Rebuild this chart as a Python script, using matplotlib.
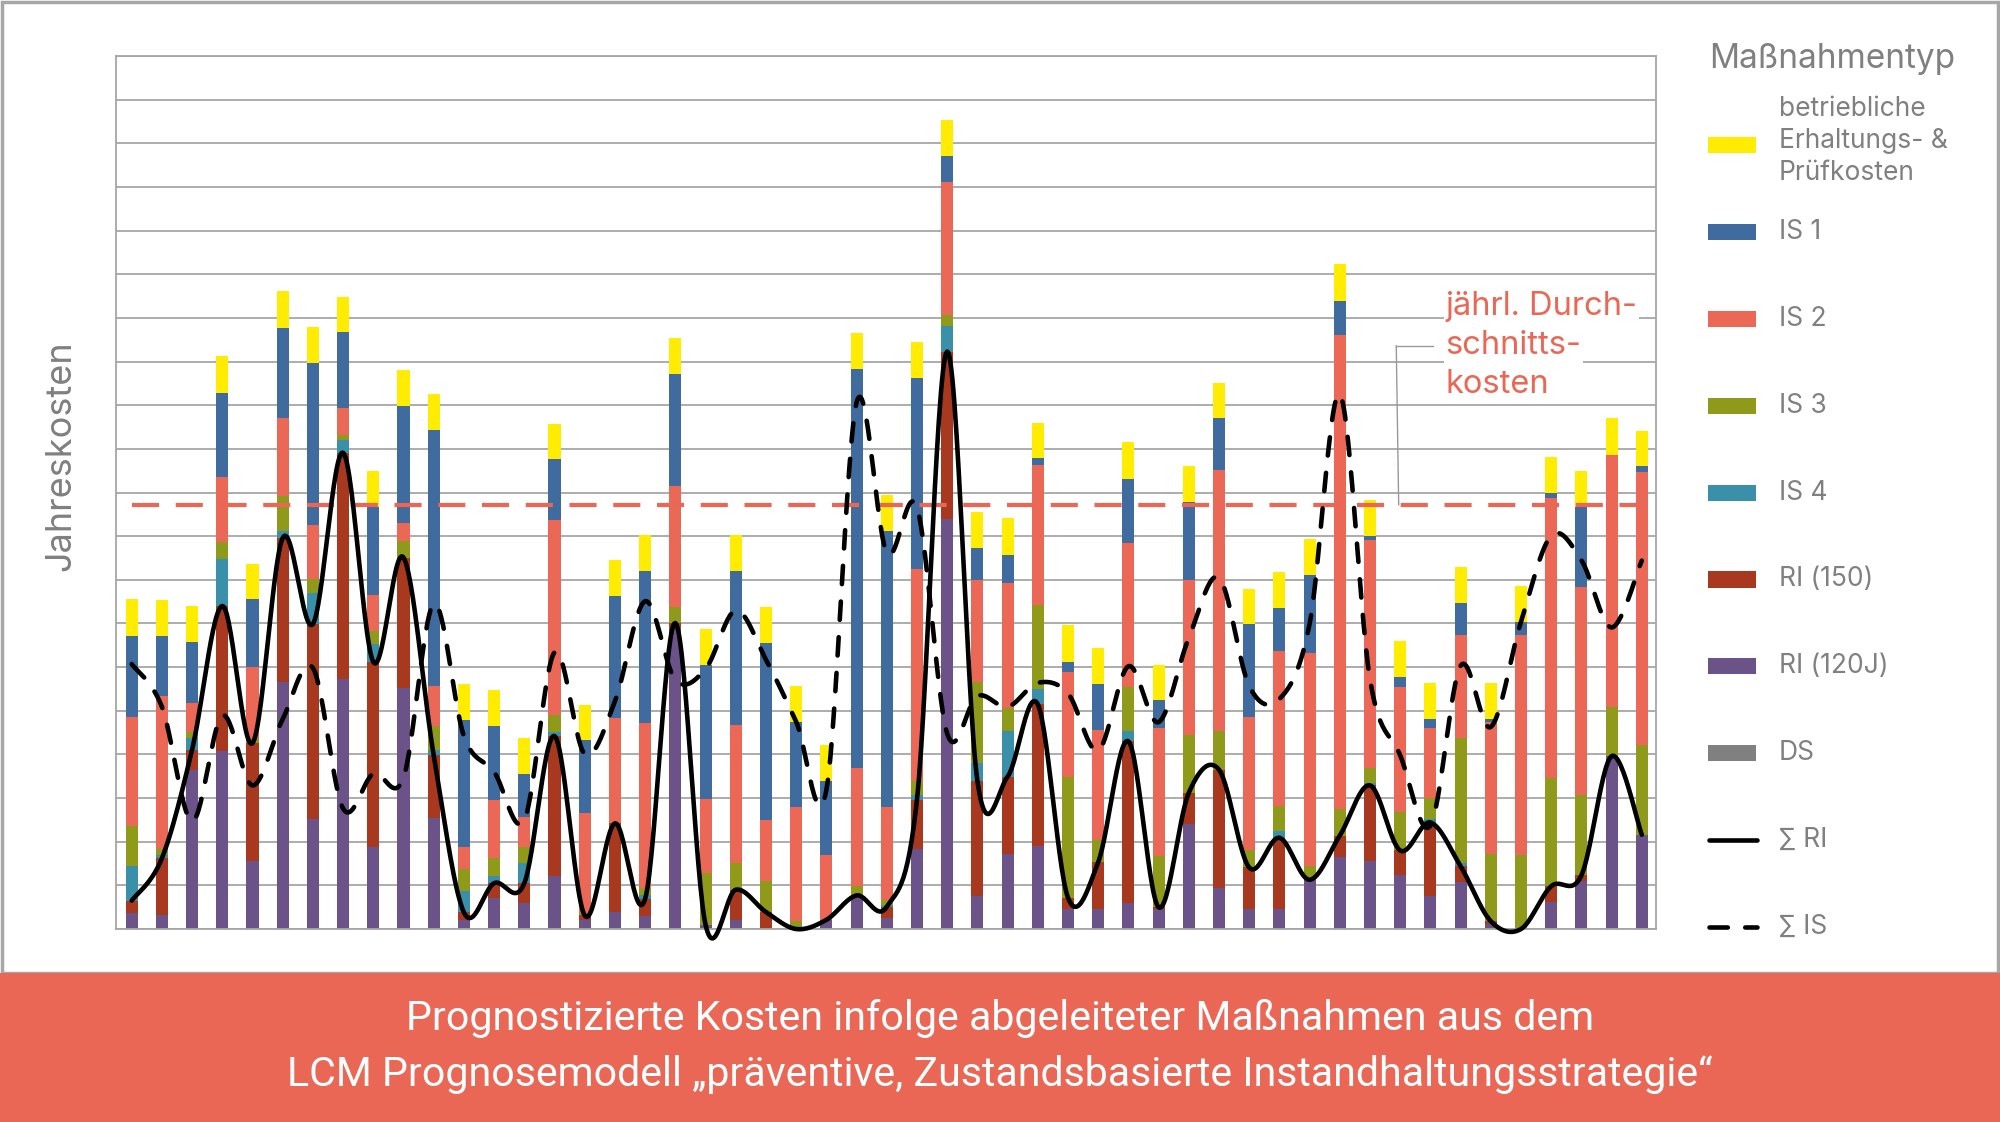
import numpy as np
import matplotlib
matplotlib.use("Agg")
import matplotlib.pyplot as plt
from matplotlib.patches import Rectangle
from matplotlib.lines import Line2D

# --- Werte je Jahr, Stapel von unten nach oben ---
ds = [0.0] * 51
ri_120 = [0.36, 0.33, 3.65, 4.09, 1.56, 5.65, 2.52, 5.73, 1.87, 5.52,
          2.55, 0.21, 0.70, 0.60, 1.21, 0.21, 0.39, 0.29, 6.91, 0.10,
          0.21, 0.00, 0.00, 0.21, 0.77, 0.26, 1.83, 9.39, 0.75, 1.72,
          1.90, 0.47, 0.45, 0.60, 0.45, 2.41, 0.95, 0.45, 0.45, 1.13,
          1.66, 1.56, 1.23, 0.75, 1.08, 0.12, 0.00, 0.62, 1.11, 3.96, 2.16]
ri_150 = [0.29, 1.29, 0.46, 3.31, 2.70, 3.31, 4.47, 5.18, 4.25, 2.99,
          1.43, 0.17, 0.35, 0.45, 3.21, 0.10, 2.03, 0.40, 0.10, 0.00,
          0.69, 0.39, 0.00, 0.00, 0.00, 0.25, 1.13, 3.84, 2.65, 1.77,
          3.25, 0.25, 1.08, 3.70, 0.05, 0.71, 2.70, 0.96, 1.64, 0.00,
          0.48, 1.73, 0.57, 1.69, 0.36, 0.06, 0.00, 0.36, 0.12, 0.00, 0.00]
is_4 = [0.79, 0.07, 0.27, 1.08, 0.00, 0.16, 0.70, 0.29, 0.41, 0.00,
        0.13, 0.48, 0.16, 0.46, 0.10, 0.00, 0.00, 0.08, 0.00, 0.00,
        0.00, 0.00, 0.00, 0.00, 0.00, 0.05, 0.10, 0.59, 0.40, 1.04,
        0.34, 0.00, 0.00, 0.23, 0.00, 0.00, 0.00, 0.00, 0.15, 0.00,
        0.00, 0.05, 0.00, 0.08, 0.08, 0.00, 0.00, 0.00, 0.00, 0.00, 0.00]
is_3 = [0.92, 0.15, 0.14, 0.39, 0.11, 0.79, 0.33, 0.13, 0.30, 0.38,
        0.54, 0.52, 0.41, 0.36, 0.39, 0.05, 0.00, 0.18, 0.36, 1.18,
        0.62, 0.72, 0.18, 0.00, 0.21, 0.11, 0.33, 0.24, 1.87, 0.53,
        1.94, 2.77, 0.50, 1.02, 1.18, 1.32, 0.88, 0.40, 0.57, 0.31,
        0.61, 0.36, 0.87, 0.48, 2.85, 1.55, 1.70, 2.49, 1.83, 1.13, 2.05]
is_2 = [2.49, 3.49, 0.66, 1.49, 1.64, 1.80, 1.23, 0.61, 0.83, 0.41,
        0.92, 0.51, 1.34, 0.70, 4.47, 2.29, 2.41, 3.76, 2.78, 1.70,
        3.16, 1.38, 2.62, 1.49, 2.70, 2.13, 4.85, 3.06, 2.32, 2.86,
        3.21, 2.41, 2.53, 3.30, 2.93, 3.55, 5.98, 3.05, 3.55, 4.88,
        10.85, 5.22, 2.88, 1.60, 2.36, 3.02, 5.03, 6.40, 4.78, 5.76, 6.27]
is_1 = [1.87, 1.38, 1.40, 1.93, 1.54, 2.06, 3.72, 1.73, 2.02, 2.68,
        5.86, 2.91, 1.69, 0.98, 1.38, 1.67, 2.81, 3.49, 2.57, 3.08,
        3.52, 4.07, 1.95, 1.69, 9.15, 6.33, 4.38, 0.59, 0.75, 0.66,
        0.15, 0.22, 1.06, 1.47, 0.63, 1.80, 1.19, 2.12, 1.00, 1.80,
        0.79, 0.09, 0.23, 0.21, 0.74, 0.06, 0.31, 0.12, 1.84, 0.02, 0.12]
betrieb = [0.83, 0.83, 0.82, 0.83, 0.82, 0.84, 0.82, 0.82, 0.82, 0.83,
           0.83, 0.82, 0.82, 0.82, 0.82, 0.82, 0.82, 0.82, 0.83, 0.82,
           0.82, 0.82, 0.82, 0.82, 0.82, 0.82, 0.82, 0.82, 0.81, 0.83,
           0.81, 0.84, 0.81, 0.84, 0.82, 0.81, 0.81, 0.81, 0.82, 0.82,
           0.84, 0.83, 0.82, 0.82, 0.83, 0.82, 0.82, 0.82, 0.82, 0.84, 0.82]
durchschnitt = 9.72

serien = [ds, ri_120, ri_150, is_4, is_3, is_2, is_1, betrieb]
farben = ["#808080", "#6B538A", "#A9391E", "#3B90A9", "#8F9A1A",
          "#EB6856", "#3F6B9F", "#FFEC00"]

legende = [("betriebliche\nErhaltungs- &\nPrüfkosten", "#FFEC00"),
           ("IS 1", "#3F6B9F"), ("IS 2", "#EB6856"), ("IS 3", "#8F9A1A"),
           ("IS 4", "#3B90A9"), ("RI (150)", "#A9391E"),
           ("RI (120J)", "#6B538A"), ("DS", "#808080")]

rot = "#EA6756"
grau = "#A6A6A6"
textgrau = "#808080"


# --- geglättete Linie wie in Excel (Bezier mit Tangenten) ---
def glatt(x, y, n=30):
    x = np.asarray(x, float)
    y = np.asarray(y, float)
    px = np.concatenate([[x[0]], x, [x[-1]]])
    py = np.concatenate([[y[0]], y, [y[-1]]])
    t = np.linspace(0, 1, n)
    xs, ys = [], []
    for i in range(len(x) - 1):
        x0, x1, x2, x3 = px[i:i + 4]
        y0, y1, y2, y3 = py[i:i + 4]
        cx1, cy1 = x1 + (x2 - x0) / 6, y1 + (y2 - y0) / 6
        cx2, cy2 = x2 - (x3 - x1) / 6, y2 - (y3 - y1) / 6
        b0, b1, b2, b3 = (1 - t) ** 3, 3 * (1 - t) ** 2 * t, 3 * (1 - t) * t ** 2, t ** 3
        xs.append(b0 * x1 + b1 * cx1 + b2 * cx2 + b3 * x2)
        ys.append(b0 * y1 + b1 * cy1 + b2 * cy2 + b3 * y2)
    return np.concatenate(xs), np.concatenate(ys)


fig = plt.figure(figsize=(20, 11.22), dpi=100)
ax = fig.add_axes([0.058, 0.172, 0.770, 0.778])

x = np.arange(len(ri_120))
unten = np.zeros(len(x))
for werte, farbe in zip(serien, farben):
    ax.bar(x, werte, 0.4, bottom=unten, color=farbe, linewidth=0, zorder=2)
    unten = unten + np.asarray(werte)

summe_ri = np.asarray(ri_120) + np.asarray(ri_150)
summe_is = np.asarray(is_1) + np.asarray(is_2) + np.asarray(is_3) + np.asarray(is_4)

gx, gy = glatt(x, summe_ri)
ax.plot(gx, gy, color="black", lw=3.3, zorder=4, clip_on=False,
        solid_capstyle="round")
gx, gy = glatt(x, summe_is)
ax.plot(gx, gy, color="black", lw=3.3, zorder=4, clip_on=False,
        linestyle=(0, (4.0, 3.8)), dash_capstyle="round")

ax.hlines(durchschnitt, x[0], x[-1], color=rot, lw=3.0,
          linestyles=[(0, (6.5, 4.0))], zorder=3)

# --- Achsen ---
ax.set_xlim(-0.52, 50.47)
ax.set_ylim(0, 20)
ax.set_yticks(np.arange(0, 21))
ax.set_xticks([])
ax.tick_params(axis="y", length=0, labelleft=False)
ax.grid(axis="y", color=grau, lw=1.3, zorder=0)
ax.set_axisbelow(True)
for s in ax.spines.values():
    s.set_color(grau)
    s.set_linewidth(1.3)

# --- Beschriftung Durchschnitt ---
ax.plot([41.87, 43.1], [13.36, 13.36], color="#999999", lw=1.0, zorder=3)
ax.plot([41.87, 41.95], [13.36, durchschnitt], color="#999999", lw=1.0, zorder=3)
for zeile, yy in zip(["jährl. Durch-", "schnitts-", "kosten"], [14.27, 13.36, 12.48]):
    ax.text(43.5, yy, zeile, color=rot, fontsize=23.5, family="Inter",
            ha="left", va="center", zorder=5,
            bbox=dict(fc="white", ec="none", pad=1.5))

fig.text(0.0306, 0.594, "Jahreskosten", rotation=90, ha="center", va="center",
         color=textgrau, fontsize=26, family="Inter")

# --- Legende ---
fig.text(0.8545, 1 - 68 / 1122, "Maßnahmentyp", ha="left", va="baseline",
         color=textgrau, fontsize=24, family="Inter")
zeilen = [145 + 86.9 * i for i in range(10)]
for (name, farbe), yp in zip(legende, zeilen):
    yf = 1 - yp / 1122
    fig.add_artist(Rectangle((0.854, yf - 0.0072), 0.024, 0.0144,
                             transform=fig.transFigure, color=farbe, lw=0))
    ty = yf + (0.0035 if "\n" in name else 0)
    fig.text(0.8895, ty, name, ha="left", va="center", color=textgrau,
             fontsize=19, family="Inter", linespacing=1.32)
for (name, stil), yp in zip([("∑ RI", "-"), ("∑ IS", (0, (4.0, 3.8)))], zeilen[8:]):
    yf = 1 - yp / 1122
    fig.add_artist(Line2D([0.8545, 0.8785], [yf, yf], transform=fig.transFigure,
                          color="black", lw=3.3, linestyle=stil,
                          dash_capstyle="round", solid_capstyle="round"))
    fig.text(0.8895, yf, name, ha="left", va="center", color=textgrau,
             fontsize=19, family=["Inter", "DejaVu Sans"])

# --- Rahmen und Titelband ---
band = 1 - 973 / 1122
fig.add_artist(Rectangle((0.001, band), 0.998, 0.998 - band, transform=fig.transFigure,
                         fill=False, ec=grau, lw=2.5))
fig.add_artist(Rectangle((0, 0), 1, band, transform=fig.transFigure, color=rot, lw=0))
fig.text(0.5, 1 - 1018 / 1122, "Prognostizierte Kosten infolge abgeleiteter Maßnahmen aus dem",
         ha="center", va="center", color="white", fontsize=29.6, family="Roboto")
fig.text(0.5, 1 - 1074 / 1122,
         "LCM Prognosemodell „präventive, Zustandsbasierte Instandhaltungsstrategie“",
         ha="center", va="center", color="white", fontsize=29.6, family="Roboto")

fig.savefig("out.png", dpi=100)
